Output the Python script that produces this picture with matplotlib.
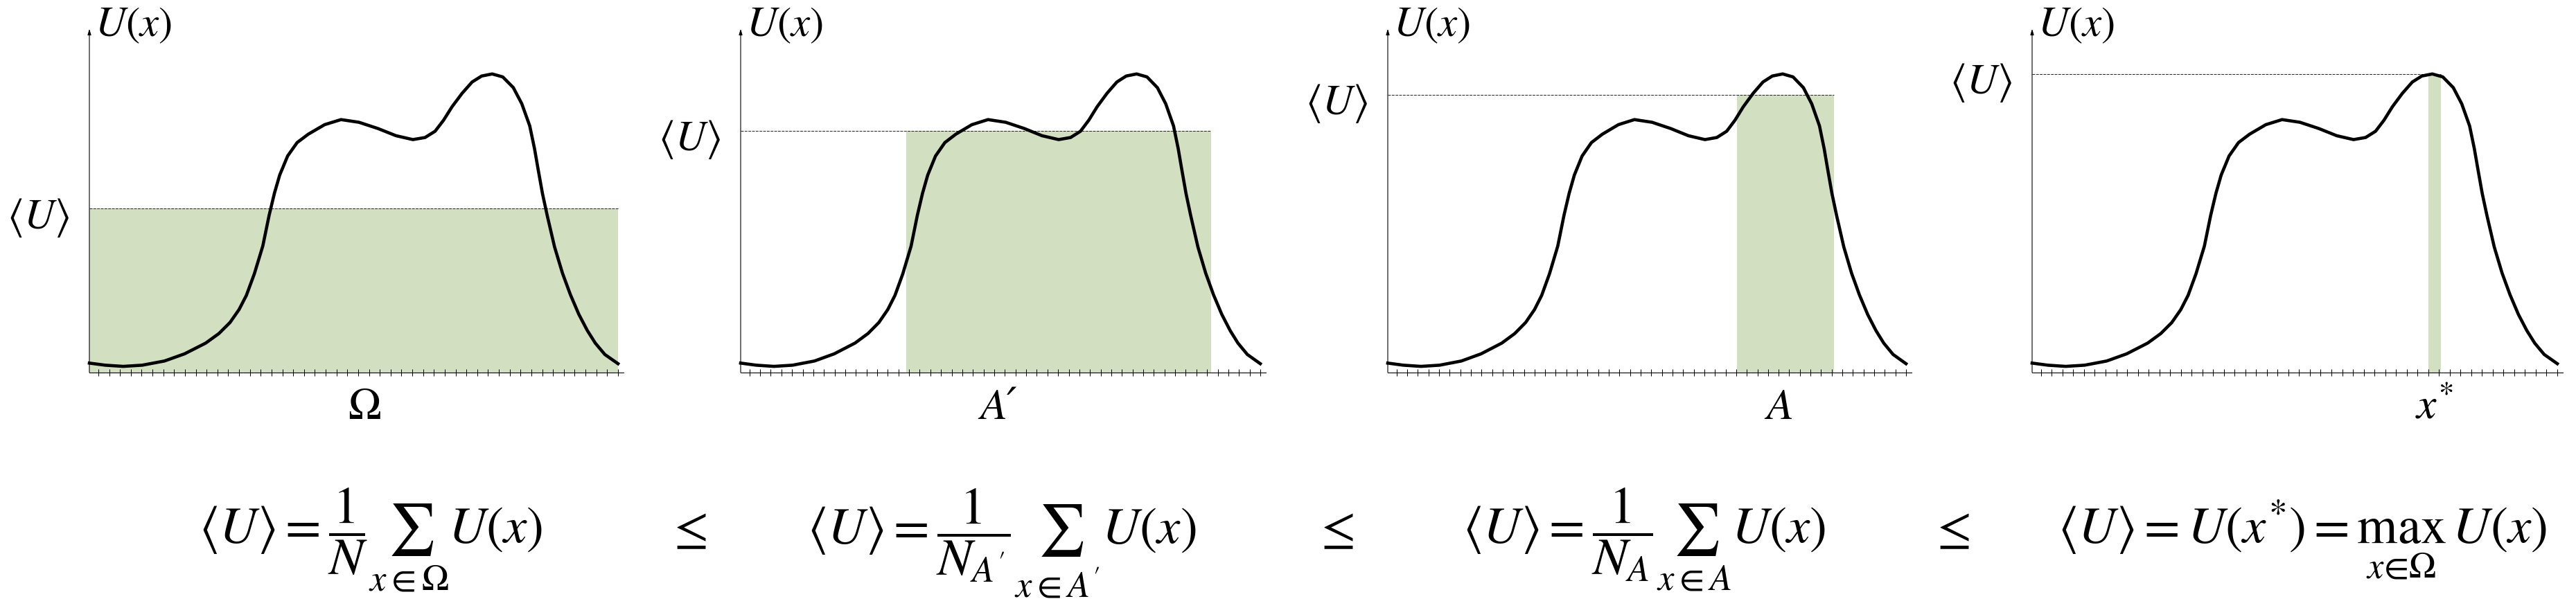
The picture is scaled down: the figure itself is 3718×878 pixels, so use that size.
import matplotlib.pyplot as plt
import numpy as np

plt.rcParams['mathtext.fontset'] = 'stix'
plt.rcParams['font.family'] = ['STIXGeneral', 'DejaVu Serif']

# the same U(x) curve is drawn in every panel (x and U normalised to 0..1)
x_pts = [0.000, 0.030, 0.064, 0.100, 0.142, 0.180, 0.220, 0.245, 0.266, 0.283,
         0.297, 0.312, 0.328, 0.340, 0.350, 0.360, 0.375, 0.393, 0.414, 0.445,
         0.476, 0.510, 0.546, 0.580, 0.612, 0.635, 0.654, 0.670, 0.686, 0.705,
         0.724, 0.742, 0.762, 0.782, 0.802, 0.818, 0.833, 0.842, 0.849, 0.857,
         0.866, 0.880, 0.895, 0.910, 0.926, 0.942, 0.957, 0.975, 1.000]
u_pts = [0.031, 0.024, 0.020, 0.024, 0.038, 0.062, 0.098, 0.130, 0.167, 0.210,
         0.258, 0.330, 0.423, 0.526, 0.600, 0.661, 0.725, 0.770, 0.798, 0.830,
         0.847, 0.838, 0.817, 0.793, 0.780, 0.787, 0.808, 0.845, 0.890, 0.935,
         0.973, 0.993, 1.000, 0.990, 0.954, 0.900, 0.826, 0.750, 0.679, 0.600,
         0.526, 0.420, 0.332, 0.260, 0.194, 0.140, 0.098, 0.060, 0.029]

mean_vals = [0.549, 0.810, 0.930, 1.000]
region_lo = [0.000, 0.319, 0.674, 0.754]
region_hi = [1.000, 0.905, 0.861, 0.779]
region_labels = [r'$\Omega$', 'A\u2032', r'$A$', r'$x^{*}$']
label_x = [0.520, 0.496, 0.753, 0.766]

formulas = [
    r'$\langle U\rangle = \dfrac{1}{N}\sum_{x\in\Omega} U(x)$',
    r"$\langle U\rangle = \dfrac{1}{N_{A'}}\sum_{x\in A'} U(x)$",
    r'$\langle U\rangle = \dfrac{1}{N_{A}}\sum_{x\in A} U(x)$',
    r'$\langle U\rangle = U(x^{*}) = \max_{x\in\Omega}\, U(x)$',
]

# layout, in pixels of the 3718 x 879 canvas
W, H = 3718, 879
panel_left = [129, 1069, 2003, 2933]
panel_width = [763, 750, 748, 758]
axis_y = 538.7
top_y = 42.7
ymax = 1.151
xext = 1.011
formula_x = [535, 1446, 2373, 3323]
leq_x = [991, 1925, 2814]
formula_base = 785
green = '#d3dfc1'

fig = plt.figure(figsize=(W / 100, H / 100), dpi=100)

ticks = 1.0 - 0.02048 * np.arange(49)

for i in range(4):
    ax = fig.add_axes([panel_left[i] / W, 1 - axis_y / H,
                       panel_width[i] * xext / W, (axis_y - top_y) / H])
    ax.set_xlim(0, xext)
    ax.set_ylim(0, ymax)
    for s in ['top', 'right', 'left']:
        ax.spines[s].set_visible(False)
    ax.spines['bottom'].set_linewidth(0.8)
    ax.set_yticks([])
    ax.set_xticks(ticks)
    ax.set_xticklabels([])
    ax.tick_params(axis='x', direction='inout', length=6.5, width=0.7)

    ax.fill_between([region_lo[i], region_hi[i]], 0, mean_vals[i],
                    color=green, lw=0, zorder=1)
    ax.plot([0, region_hi[i]], [mean_vals[i], mean_vals[i]], color='#222222',
            lw=0.7, dashes=(4, 1.5), zorder=2)
    ax.plot(x_pts, u_pts, color='black', lw=3.3, zorder=3, clip_on=False)

    ax.annotate('', xy=(0, ymax), xytext=(0, 0), annotation_clip=False,
                arrowprops=dict(arrowstyle='-|>,head_length=0.5,head_width=0.15',
                                lw=0.8, color='black', shrinkA=0, shrinkB=0))
    ax.annotate(r'$U(x)$', xy=(0, ymax), xytext=(8, -10),
                textcoords='offset pixels', ha='left', va='baseline',
                fontsize=44, annotation_clip=False)
    ax.annotate(r'$\langle U\rangle$', xy=(0, mean_vals[i]), xytext=(-29, -12),
                textcoords='offset pixels', ha='right', va='center',
                fontsize=44, annotation_clip=False)
    ax.annotate(region_labels[i], xy=(label_x[i], 0), xytext=(0, -(605 - axis_y)),
                textcoords='offset pixels', ha='center', va='baseline',
                fontsize=46, style='italic', annotation_clip=False)

    fig.text(formula_x[i] / W, 1 - formula_base / H, formulas[i],
             ha='center', va='baseline', fontsize=54)

for xl in leq_x:
    fig.text(xl / W, 1 - formula_base / H, r'$\leq$', ha='center',
             va='baseline', fontsize=52)

fig.savefig('out.png', dpi=100)
